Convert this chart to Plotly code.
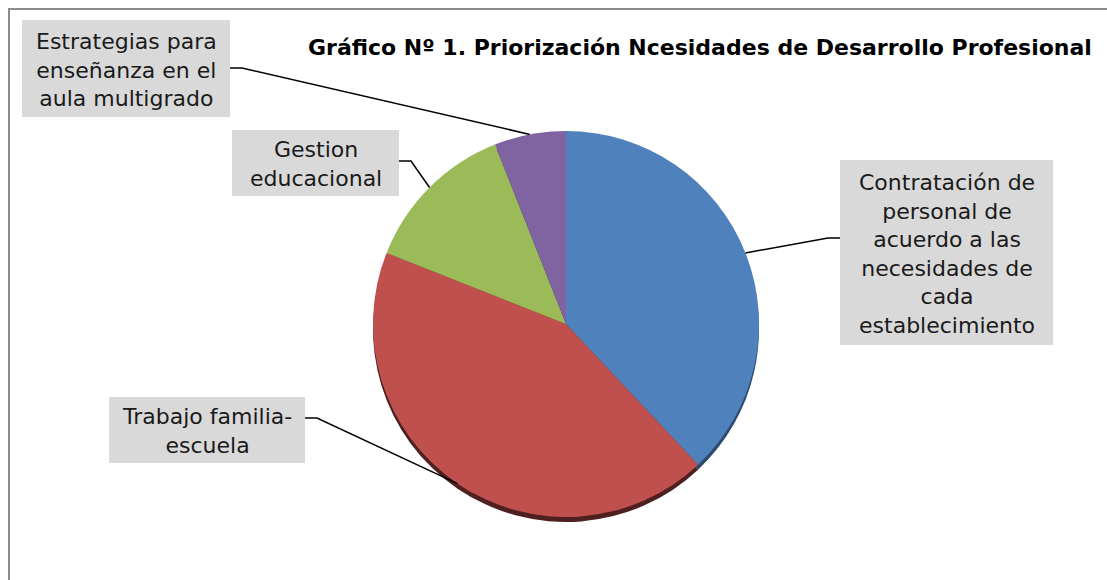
import math
import plotly.graph_objects as go

# ---- data ----
categories = [
    "Contratación de personal de acuerdo a las necesidades de cada establecimiento",
    "Trabajo familia-escuela",
    "Gestion educacional",
    "Estrategias para enseñanza en el aula multigrado",
]
values = [38, 43, 13, 6]
label_texts = [
    "Contratación de<br>personal de<br>acuerdo a las<br>necesidades de<br>cada<br>establecimiento",
    "Trabajo familia-<br>escuela",
    "Gestion<br>educacional",
    "Estrategias para<br>enseñanza en el<br>aula multigrado",
]
colors = ["#4F81BD", "#C0504D", "#9BBB59", "#8064A2"]
shadow_colors = ["#2c4a6e", "#4e2020", "#4f6130", "#433556"]
title_text = "Gráfico Nº 1. Priorización Ncesidades de Desarrollo Profesional"

# ---- layout geometry (pixels) ----
W, H = 1107, 580
cx, cy, R = 566, 324, 193
FONT = "DejaVu Sans"

def px(x):
    return x / W

def py(y):
    return 1 - y / H

# label boxes: (left, top, right, bottom) and side of leader attach
boxes = [
    (840, 160, 1053, 345, "left", 238),
    (109, 397, 305, 463, "right", 418),
    (232, 130, 399, 196, "right", 161),
    (22, 20, 230, 117, "right", 68),
]

fig = go.Figure()

# 3D-ish rim shadow
fig.add_trace(go.Pie(
    labels=categories, values=values, sort=False, direction="clockwise", rotation=0,
    marker=dict(colors=shadow_colors, line=dict(width=0)),
    textinfo="none", hoverinfo="skip", showlegend=False,
    domain=dict(x=[px(cx - R), px(cx + R)], y=[py(cy + R + 5), py(cy - R + 5)]),
))
fig.add_trace(go.Pie(
    labels=categories, values=values, sort=False, direction="clockwise", rotation=0,
    marker=dict(colors=colors, line=dict(width=0)),
    textinfo="none", showlegend=False,
    domain=dict(x=[px(cx - R), px(cx + R)], y=[py(cy + R), py(cy - R)]),
))

shapes = []
annotations = []
total = sum(values)
cum = 0
for v, txt, (l, t, r, b, side, ly) in zip(values, label_texts, boxes):
    mid = (cum + v / 2) / total * 2 * math.pi
    cum += v
    ex = cx + R * math.sin(mid)
    ey = cy - R * math.cos(mid)
    # box
    shapes.append(dict(type="rect", xref="paper", yref="paper",
                       x0=px(l), x1=px(r), y0=py(b), y1=py(t),
                       fillcolor="#D9D9D9", line=dict(width=0), layer="below"))
    annotations.append(dict(text=txt, xref="paper", yref="paper",
                            x=px((l + r) / 2), y=py((t + b) / 2 + 1),
                            xanchor="center", yanchor="middle", showarrow=False,
                            align="center",
                            font=dict(family=FONT, size=22, color="#1a1a1a")))
    # leader line
    sx = l if side == "left" else r
    kx = sx - 12 if side == "left" else sx + 12
    path = f"M {px(sx)},{py(ly)} L {px(kx)},{py(ly)} L {px(ex)},{py(ey)}"
    shapes.append(dict(type="path", xref="paper", yref="paper", path=path,
                       line=dict(color="black", width=1.5)))

# chart border
shapes.append(dict(type="rect", xref="paper", yref="paper",
                   x0=px(9), x1=1.05, y0=-0.05, y1=py(9),
                   line=dict(color="#8c8c8c", width=2), fillcolor="rgba(0,0,0,0)"))

annotations.append(dict(text="<b>" + title_text + "</b>", xref="paper", yref="paper",
                        x=px(700), y=py(48), xanchor="center", yanchor="middle",
                        showarrow=False,
                        font=dict(family=FONT, size=22, color="black")))

fig.update_layout(
    width=W, height=H, margin=dict(l=0, r=0, t=0, b=0),
    paper_bgcolor="white", plot_bgcolor="white",
    shapes=shapes, annotations=annotations, showlegend=False,
)

fig.write_html("out.html", config={"displayModeBar": False},
               post_script="document.body.style.margin='0';document.body.style.overflow='hidden';")
